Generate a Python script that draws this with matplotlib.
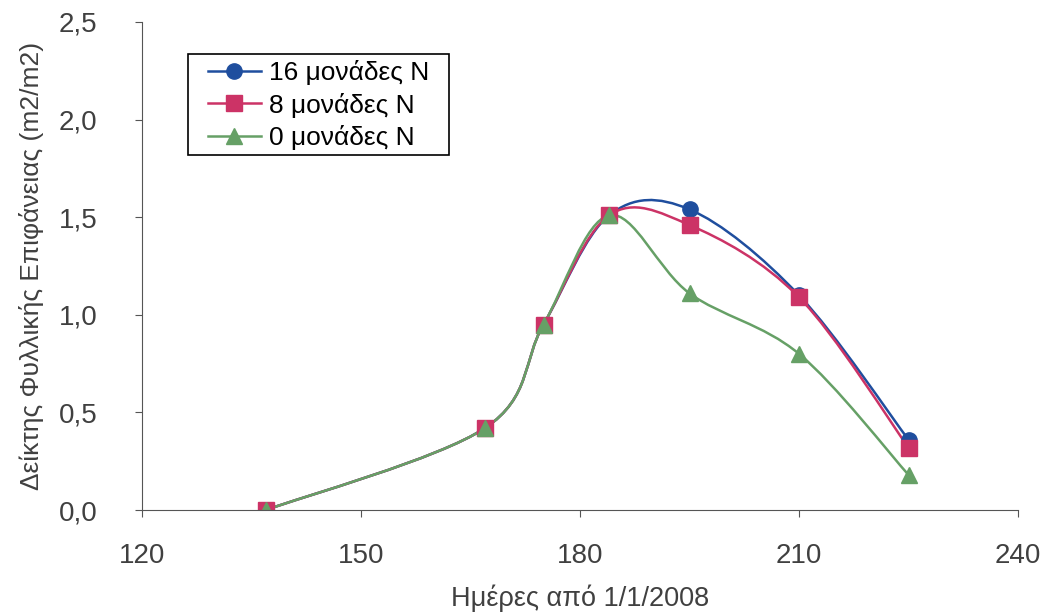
import numpy as np
import matplotlib.pyplot as plt
from matplotlib.path import Path
from matplotlib.patches import PathPatch, Rectangle
from matplotlib.lines import Line2D
from matplotlib.ticker import FuncFormatter

plt.rcParams['font.family'] = ['Liberation Sans', 'DejaVu Sans']

# Leaf area index measurements, days counted from 1/1/2008
days = [137, 167, 175, 184, 195, 210, 225]
lai_16 = [0.0, 0.42, 0.95, 1.51, 1.54, 1.10, 0.36]
lai_8 = [0.0, 0.42, 0.95, 1.51, 1.46, 1.09, 0.32]
lai_0 = [0.0, 0.42, 0.95, 1.51, 1.11, 0.80, 0.18]

labels = ['16 μονάδες Ν', '8 μονάδες Ν', '0 μονάδες Ν']
colors = ['#1f4e9e', '#cc3366', '#66a066']
markers = ['o', 's', '^']


def smooth_path(x, y):
    # Excel-like smoothed line: cubic Bezier segments through every point
    pts = np.column_stack([x, y]).astype(float)
    n = len(pts)
    verts = [pts[0]]
    codes = [Path.MOVETO]
    for i in range(n - 1):
        p0 = pts[max(i - 1, 0)]
        p1 = pts[i]
        p2 = pts[i + 1]
        p3 = pts[min(i + 2, n - 1)]
        c1 = p1 + (p2 - p0) / 6
        c2 = p2 - (p3 - p1) / 6
        verts += [c1, c2, p2]
        codes += [Path.CURVE4] * 3
    return Path(verts, codes)


W, H = 1046, 615
fig = plt.figure(figsize=(W / 100, H / 100), dpi=100)
ax = fig.add_axes([142 / W, 1 - 510 / H, 876 / W, 488 / H])

for y, c, m in zip([lai_16, lai_8, lai_0], colors, markers):
    ax.add_patch(PathPatch(smooth_path(days, y), facecolor='none', edgecolor=c, lw=1.8))
    ax.plot(days, y, linestyle='none', marker=m, color=c, markersize=11)

ax.set_xlim(120, 240)
ax.set_ylim(0, 2.5)
ax.set_xticks(range(120, 241, 30))
ax.set_yticks(np.arange(0, 2.51, 0.5))
ax.yaxis.set_major_formatter(FuncFormatter(lambda v, p: f'{v:.1f}'.replace('.', ',')))

for s in ['top', 'right']:
    ax.spines[s].set_visible(False)
for s in ['left', 'bottom']:
    ax.spines[s].set_color('#555555')
ax.tick_params(direction='out', length=5, color='#555555', labelsize=20, labelcolor='#404040')
ax.tick_params(axis='x', pad=19)
ax.tick_params(axis='y', pad=27)

ax.set_xlabel('Ημέρες από 1/1/2008', fontsize=19.5, color='#404040', labelpad=11)
ax.set_ylabel('Δείκτης Φυλλικής Επιφάνειας (m2/m2)', fontsize=19, color='#404040', labelpad=11)

# legend box with a plain black border, drawn beneath the legend entries
ax.add_patch(Rectangle((188 / W, 1 - 155 / H), 261 / W, 101 / H, transform=fig.transFigure,
                       facecolor='white', edgecolor='black', lw=1.2, zorder=4, clip_on=False))
handles = [Line2D([], [], color=c, marker=m, markersize=11, lw=1.8) for c, m in zip(colors, markers)]
leg = ax.legend(handles, labels, loc='upper left', bbox_to_anchor=(208 / W, 1 - 60 / H),
                bbox_transform=fig.transFigure, fontsize=19, frameon=False,
                handlelength=2.0, handletextpad=0.3, borderpad=0, labelspacing=0.29,
                borderaxespad=0)
leg.set_zorder(5)

fig.savefig('out.png', dpi=100)
